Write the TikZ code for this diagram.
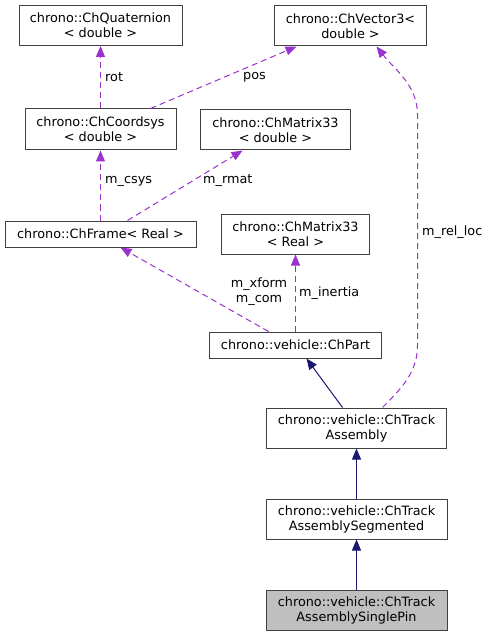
\documentclass[tikz,border=0pt]{standalone}
\usepackage{fontspec}
\setmainfont{DejaVu Sans}
\usepackage{tikz}
\usetikzlibrary{arrows.meta}

\definecolor{edgepurple}{HTML}{9A32CD}
\definecolor{edgenavy}{HTML}{191970}
\definecolor{boxgray}{HTML}{404040}

\begin{document}
\begin{tikzpicture}[x=1pt, y=-1pt,
    class/.style={draw=boxgray, line width=1pt, align=center, inner sep=0pt,
      font=\fontsize{12.8}{15}\selectfont},
    lbl/.style={font=\fontsize{12.8}{15}\selectfont, inner sep=0pt, align=center},
    member/.style={draw=edgepurple, dashed, dash pattern=on 6pt off 4pt, line width=1pt,
      -{Triangle[length=11pt, width=9pt]}},
    inherit/.style={draw=edgenavy, line width=1pt,
      -{Triangle[length=11pt, width=9pt]}}]
  \useasboundingbox (0,0) rectangle (491,636);

  \node (quat) [class, minimum width=163pt, minimum height=40pt] at (100.5,25.5) {chrono::ChQuaternion\\< double >};
  \node (vec) [class, minimum width=152pt, minimum height=40pt] at (350.5,26) {chrono::ChVector3<\\double >};
  \node (csys) [class, minimum width=151pt, minimum height=41pt] at (100.5,129.5) {chrono::ChCoordsys\\< double >};
  \node (rmat) [class, minimum width=150pt, minimum height=40pt] at (275.5,130) {chrono::ChMatrix33\\< double >};
  \node (frame) [class, minimum width=191pt, minimum height=26pt] at (100.5,234) {chrono::ChFrame< Real >};
  \node (inert) [class, minimum width=148pt, minimum height=40pt] at (295.5,234) {chrono::ChMatrix33\\< Real >};
  \node (part) [class, minimum width=172pt, minimum height=26pt] at (295.5,345) {chrono::vehicle::ChPart};
  \node (track) [class, minimum width=180pt, minimum height=40pt] at (356.5,428) {chrono::vehicle::ChTrack\\Assembly};
  \node (seg) [class, minimum width=181pt, minimum height=40pt] at (356.5,519) {chrono::vehicle::ChTrack\\AssemblySegmented};
  \node (pin) [class, fill=gray!50, minimum width=181pt, minimum height=40pt] at (356.5,610) {chrono::vehicle::ChTrack\\AssemblySinglePin};

  % members
  \draw[member] (csys.north) to (quat.south);
  \draw[member] ([xshift=50pt]csys.north) to ([xshift=-54pt]vec.south);
  \draw[member] (frame.north) to (csys.south);
  \draw[member] ([xshift=27pt]frame.north) to ([xshift=-33pt]rmat.south);
  \draw[member] ([xshift=-27pt]part.north) to ([xshift=20pt]frame.south);
  \draw[member] (part.north) to (inert.south);
  \draw[member] ([xshift=26pt]track.north) .. controls (405,385) and (417.5,370) .. (417.5,345)
    -- (417.5,115) .. controls (417.5,85) and (395,70) .. ([xshift=26pt]vec.south);

  \node (lrot) [lbl, anchor=west] at (105,77) {rot};
  \node (lpos) [lbl, anchor=west] at (243,77) {pos};
  \node (lcsys) [lbl, anchor=west] at (105,181) {m\_csys};
  \node (lrmat) [lbl, anchor=west] at (203,181) {m\_rmat};
  \node (lxform) [lbl] at (259,292) {m\_xform\\m\_com};
  \node (linert) [lbl, anchor=west] at (299,293) {m\_inertia};
  \node (lloc) [lbl, anchor=west] at (422,232) {m\_rel\_loc};

  % inheritance
  \draw[inherit] ([xshift=-14pt]track.north) to ([xshift=11pt]part.south);
  \draw[inherit] (seg.north) to (track.south);
  \draw[inherit] (pin.north) to (seg.south);
\end{tikzpicture}
\end{document}
